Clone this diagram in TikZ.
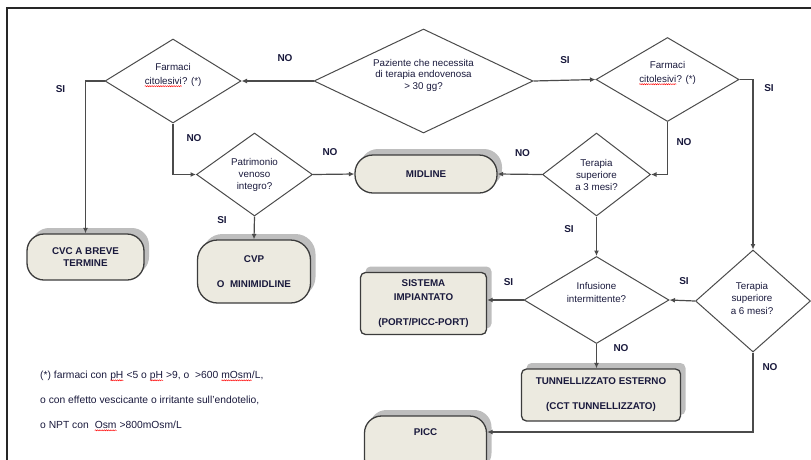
\documentclass[tikz,border=0pt]{standalone}
\usepackage{fontspec}
\setmainfont{Liberation Sans}
\usetikzlibrary{shapes.geometric,arrows.meta,shadows,decorations.pathmorphing}
\definecolor{linec}{RGB}{75,75,75}
\definecolor{boxline}{RGB}{60,60,60}
\definecolor{boxc}{RGB}{236,234,224}
\definecolor{shadc}{RGB}{190,190,190}
\definecolor{txtc}{RGB}{25,25,60}
\newcommand\redwave[1]{\tikz[baseline=(wv.base),x=1pt,y=1pt]{\node[inner sep=0pt,outer sep=0pt,anchor=base] (wv) {#1};\draw[red,line width=0.45pt,decorate,decoration={snake,amplitude=0.55pt,segment length=2.2pt}] ([yshift=-2pt]wv.base west) -- ([yshift=-2pt]wv.base east);}}
\tikzset{
  conn/.style={draw=linec, line width=1.2pt},
  arr/.style={conn, -{Latex[length=5.5pt,width=5pt]}},
  dia/.style={diamond, draw=linec, line width=1pt, inner sep=0pt},
  dtext/.style={text=txtc, font=\fontsize{9.8}{12}\selectfont, align=center, inner sep=0pt},
  term/.style={rectangle, rounded corners=17pt, draw=boxline, line width=1.3pt, fill=boxc,
    drop shadow={shadow xshift=5pt, shadow yshift=6pt, fill=shadc, opacity=1},
    text=txtc, font=\bfseries\fontsize{9.8}{12}\selectfont, align=center, inner sep=0pt},
  rbox/.style={term, rounded corners=5pt},
  yn/.style={text=txtc, font=\bfseries\fontsize{10}{12}\selectfont, inner sep=0pt},
  fn/.style={text=txtc, font=\fontsize{10.3}{12}\selectfont, anchor=west, inner sep=0pt},
}
\begin{document}
\begin{tikzpicture}[x=1pt,y=-1pt]
\useasboundingbox (0,0) rectangle (811,459);
\clip (0,0) rectangle (811,459);
% frame
\draw[line width=2pt, black!85] (7,470) -- (7,8) -- (820,8);

% decisions
\node[dia, minimum width=219pt, minimum height=104pt, shape aspect=2.1] (main) at (423.5,81) {};
\node[dtext, font=\fontsize{9.8}{11.5}\selectfont] (main-t) at (423.5,75) {Paziente che necessita\\di terapia endovenosa\\> 30 gg?};

\node[dia, minimum width=136pt, minimum height=84pt, shape aspect=1.6] (lf) at (173,81) {};
\node[dtext, font=\fontsize{9.8}{14}\selectfont] (lf-t) at (173,75) {Farmaci\\\redwave{citolesivi}? (*)};

\node[dia, minimum width=143pt, minimum height=84pt, shape aspect=1.7] (rf) at (667.5,79.5) {};
\node[dtext, font=\fontsize{9.8}{14}\selectfont] (rf-t) at (667.5,73) {Farmaci\\\redwave{citolesivi}? (*)};

\node[dia, minimum width=116pt, minimum height=83pt, shape aspect=1.4] (pat) at (254.5,174.5) {};
\node[dtext] (pat-t) at (254.5,174.5) {Patrimonio\\venoso\\integro?};

\node[dia, minimum width=108pt, minimum height=83pt, shape aspect=1.3] (m3) at (596.5,174.5) {};
\node[dtext] (m3-t) at (596.5,174.5) {Terapia\\superiore\\a 3 mesi?};

\node[dia, minimum width=145pt, minimum height=87pt, shape aspect=1.67] (inf) at (596.5,300) {};
\node[dtext, font=\fontsize{9.8}{13.5}\selectfont] (inf-t) at (596.5,292.5) {Infusione\\intermittente?};

\node[dia, minimum width=115pt, minimum height=102pt, shape aspect=1.13] (m6) at (753,301) {};
\node[dtext, font=\fontsize{9.8}{12.5}\selectfont] (m6-t) at (752,298) {Terapia\\superiore\\a 6 mesi?};

% terminals
\node[term, minimum width=142pt, minimum height=38pt, rounded corners=18pt] (mid) at (426,174) {MIDLINE};
\node[term, minimum width=117pt, minimum height=46pt] (cvc) at (85.5,257) {CVC A BREVE\\TERMINE};
\node[term, minimum width=113pt, minimum height=63pt, rounded corners=20pt] (cvp) at (254,271.5) {CVP\\[13pt]O~~MINIMIDLINE};
\node[rbox, minimum width=126pt, minimum height=62pt, font=\bfseries\fontsize{9.8}{14.5}\selectfont] (sis) at (423.5,303.5) {SISTEMA\\IMPIANTATO\\[10pt](PORT/PICC-PORT)};
\node[rbox, minimum width=159pt, minimum height=52pt] (tun) at (601,395) {TUNNELLIZZATO ESTERNO\\[13pt](CCT TUNNELLIZZATO)};
\node[term, minimum width=122pt, minimum height=60pt] (picc) at (425.5,446) {};
\node[dtext, font=\bfseries\fontsize{9.8}{12}\selectfont] (picc-t) at (425.5,432) {PICC};

% connectors
\draw[arr] (main.west) -- (lf.east);
\draw[arr] (main.east) -- (rf.west);
\draw[arr] (lf.west) -| (cvc.north);
\draw[arr] (lf.south) |- (pat.west);
\draw[arr] (pat.east) -- (mid.west);
\draw[arr] (pat.south) -- (cvp.north);
\draw[arr] (rf.south) |- (m3.east);
\draw[arr] (m3.west) -- (mid.east);
\draw[arr] (m3.south) -- (inf.north);
\draw[arr] (rf.east) -| (m6.north);
\draw[arr] (m6.west) -- (inf.east);
\draw[arr] (inf.west) -- (sis.east |- inf.west);
\draw[arr] (inf.south) -- (inf.south |- tun.north);
\draw[arr] (m6.south) |- (picc.east |- picc-t);

% branch labels
\node[yn] (n1) at (285,58) {NO};
\node[yn] (s1) at (565,60.5) {SI};
\node[yn] (s2) at (60.5,89.5) {SI};
\node[yn] (n2) at (194,138.5) {NO};
\node[yn] (n3) at (330,152.5) {NO};
\node[yn] (s3) at (222,220) {SI};
\node[yn] (n4) at (684,142.5) {NO};
\node[yn] (n5) at (522.5,153.3) {NO};
\node[yn] (s4) at (769,88) {SI};
\node[yn] (s5) at (569,228.7) {SI};
\node[yn] (s6) at (684,280.7) {SI};
\node[yn] (s7) at (508.5,282.5) {SI};
\node[yn] (n6) at (621,348) {NO};
\node[yn] (n7) at (770,366.7) {NO};

% footnote
\node[fn] (fn1) at (40,376) {(*) farmaci con \redwave{pH} <5 o \redwave{pH} >9, o~~>600 \redwave{mOsm}/L,};
\node[fn] (fn2) at (40,400) {o con effetto vescicante o irritante sull’endotelio,};
\node[fn] (fn3) at (40,426) {o NPT con~~\redwave{Osm} >800mOsm/L};
\end{tikzpicture}
\end{document}
